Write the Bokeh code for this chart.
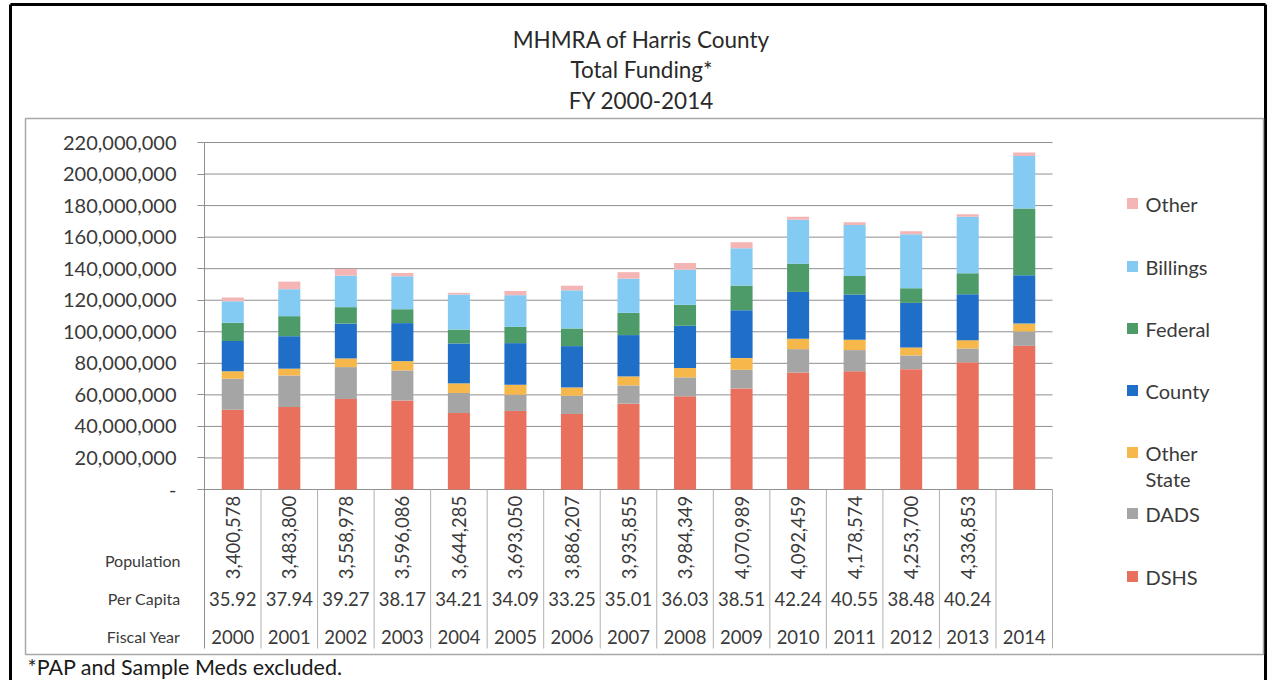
import math
from bokeh.plotting import figure
from bokeh.models import Range1d, FixedTicker, NumeralTickFormatter, ColumnDataSource
from bokeh.core.properties import value
from bokeh.embed import file_html
from bokeh.resources import INLINE

# ---------------- data ----------------
years = [2000, 2001, 2002, 2003, 2004, 2005, 2006, 2007, 2008, 2009, 2010, 2011, 2012, 2013, 2014]
# funding by source, millions of dollars
dshs        = [50.6, 52.3, 57.4, 56.5, 48.5, 49.8, 47.9, 54.4, 59.1, 64.1, 74.2, 74.9, 76.3, 80.6, 91.1]
dads        = [19.6, 20.0, 20.2, 19.0, 12.7, 10.3, 11.6, 11.6, 12.0, 11.8, 14.8, 13.5,  8.7,  8.8,  9.1]
other_state = [ 4.7,  4.3,  5.5,  5.9,  6.1,  6.3,  5.2,  5.7,  5.9,  7.4,  6.5,  6.5,  5.1,  5.3,  5.0]
county      = [19.2, 20.6, 22.1, 24.1, 25.3, 26.4, 26.2, 26.2, 26.8, 30.4, 29.8, 28.7, 28.2, 29.1, 30.6]
federal     = [11.6, 12.7, 10.4,  8.8,  8.8, 10.3, 11.2, 14.1, 13.3, 15.6, 17.9, 11.8,  9.3, 13.3, 42.4]
billings    = [13.7, 17.1, 20.0, 20.9, 22.2, 20.1, 24.2, 21.7, 22.3, 23.6, 27.8, 32.3, 34.2, 35.8, 33.3]
other       = [ 2.3,  4.8,  4.2,  2.1,  1.1,  2.7,  2.9,  4.1,  4.2,  3.9,  1.9,  1.7,  1.9,  1.6,  2.1]

population = ["3,400,578", "3,483,800", "3,558,978", "3,596,086", "3,644,285", "3,693,050",
              "3,886,207", "3,935,855", "3,984,349", "4,070,989", "4,092,459", "4,178,574",
              "4,253,700", "4,336,853", ""]
per_capita = ["35.92", "37.94", "39.27", "38.17", "34.21", "34.09", "33.25", "35.01",
              "36.03", "38.51", "42.24", "40.55", "38.48", "40.24", ""]

series_names = ["DSHS", "DADS", "Other State", "County", "Federal", "Billings", "Other"]
series_values = [dshs, dads, other_state, county, federal, billings, other]
colors = ["#E8705C", "#A5A5A5", "#F6B74B", "#1F6FC8", "#4E9B6A", "#84CBF3", "#F5B5B5"]

y_ticks = [0, 20e6, 40e6, 60e6, 80e6, 100e6, 120e6, 140e6, 160e6, 180e6, 200e6, 220e6]
row_labels = ["Population", "Per Capita", "Fiscal Year"]
title_lines = ["MHMRA of Harris County", "Total Funding*", "FY 2000-2014"]
footnote = "*PAP and Sample Meds excluded."

# ---------------- geometry (pixels from top-left of the figure) ----------------
W, H = 1267, 680
AX_X = 204          # y axis / first table line
TOP_Y = 142         # 220,000,000 line
ZERO_Y = 489        # zero line
TABLE_BOTTOM = 648
CAT_RIGHT = 1052
n = len(years)
UNIT = (CAT_RIGHT - AX_X) / n
MPP = y_ticks[-1] / (ZERO_Y - TOP_Y)

def px(x):
    return (x - AX_X) / UNIT

def py(y):
    return (ZERO_Y - y) * MPP

FONT = "Lato"
TXT = "#3a3a3a"
GRID = "#8f8f8f"

p = figure(width=W, height=H, output_backend="svg", toolbar_location=None,
           x_range=Range1d(px(0), px(W)), y_range=Range1d(py(H), py(0)))
p.min_border = 0
p.min_border_left = p.min_border_right = p.min_border_top = p.min_border_bottom = 0
p.outline_line_color = None
p.xaxis.visible = False
p.xgrid.visible = False
p.ygrid.visible = False
p.background_fill_color = "white"
p.border_fill_color = "white"

ax = p.yaxis[0]
ax.fixed_location = 0
ax.bounds = (py(TABLE_BOTTOM), y_ticks[-1])
ax.ticker = FixedTicker(ticks=y_ticks)
ax.formatter = NumeralTickFormatter(format="0,0")
ax.major_label_overrides = {0: "-"}
ax.major_tick_in = 0
ax.major_tick_out = 7
ax.minor_tick_line_color = None
ax.major_tick_line_color = GRID
ax.axis_line_color = GRID
ax.major_label_text_font = FONT
ax.major_label_text_font_size = "20px"
ax.major_label_text_color = TXT
ax.major_label_standoff = 21

# outer black frame and chart box
p.segment(x0=[px(10), px(10), px(1265)], y0=[py(4), py(4), py(4)],
          x1=[px(1265), px(10), px(1265)], y1=[py(4), py(H + 5), py(H + 5)],
          line_color="#000000", line_width=3)
p.quad(left=px(25), right=px(1263), top=py(118), bottom=py(654),
       fill_color=None, line_color="#a8a8a8", line_width=1.5)

# titles
p.text(x=[px(641)] * 3, y=[py(39), py(69), py(100)], text=title_lines, text_align="center",
       text_baseline="middle", text_font=value(FONT), text_font_size="22.5px", text_color="#2a2a2a")

# grid lines over the category area only
p.segment(x0=0, x1=n, y0=y_ticks, y1=y_ticks, line_color=GRID, line_width=1)

# stacked bars
data = {"x": [y - years[0] + 0.5 for y in years]}
for name, vals in zip(series_names, series_values):
    data[name] = [v * 1e6 for v in vals]
src = ColumnDataSource(data)
p.vbar_stack(series_names, x="x", width=0.39, color=colors, line_color=None, source=src)

# data table below the plot
p.segment(x0=list(range(1, n + 1)), x1=list(range(1, n + 1)), y0=0, y1=py(TABLE_BOTTOM),
          line_color="#b0b0b0", line_width=1)
centers = data["x"]
p.text(x=centers, y=py(537), text=population, angle=math.pi / 2,
       text_align="center", text_baseline="middle", text_font=value(FONT),
       text_font_size="18.5px", text_color=TXT)
p.text(x=centers, y=py(598), text=per_capita, text_align="center", text_baseline="middle",
       text_font=value(FONT), text_font_size="18.5px", text_color=TXT)
p.text(x=centers, y=py(636), text=[str(y) for y in years], text_align="center",
       text_baseline="middle", text_font=value(FONT), text_font_size="18.5px", text_color=TXT)
p.text(x=[px(180)] * 3, y=[py(560), py(598), py(636)], text=row_labels, text_align="right",
       text_baseline="middle", text_font=value(FONT), text_font_size="16px", text_color=TXT)

# legend (top to bottom = reverse stacking order)
leg_y = [576, 513, 452, 390, 328, 266, 203]
p.scatter(x=[px(1132)] * len(series_names), y=[py(v) for v in leg_y], marker="square", size=11,
          color=colors, line_color=None)
leg_text = [s.replace(" ", "\n") for s in series_names]
p.text(x=[px(1145)] * len(series_names), y=[py(v - 12) for v in leg_y], text=leg_text,
       text_align="left", text_baseline="top", text_font=value(FONT), text_font_size="20px",
       text_color=TXT, text_line_height=1.1)

# footnote
p.text(x=[px(27)], y=[py(666)], text=[footnote], text_align="left", text_baseline="middle",
       text_font=value(FONT), text_font_size="21.5px", text_color="#1a1a1a")

open("out.html", "w").write(file_html(p, INLINE))
